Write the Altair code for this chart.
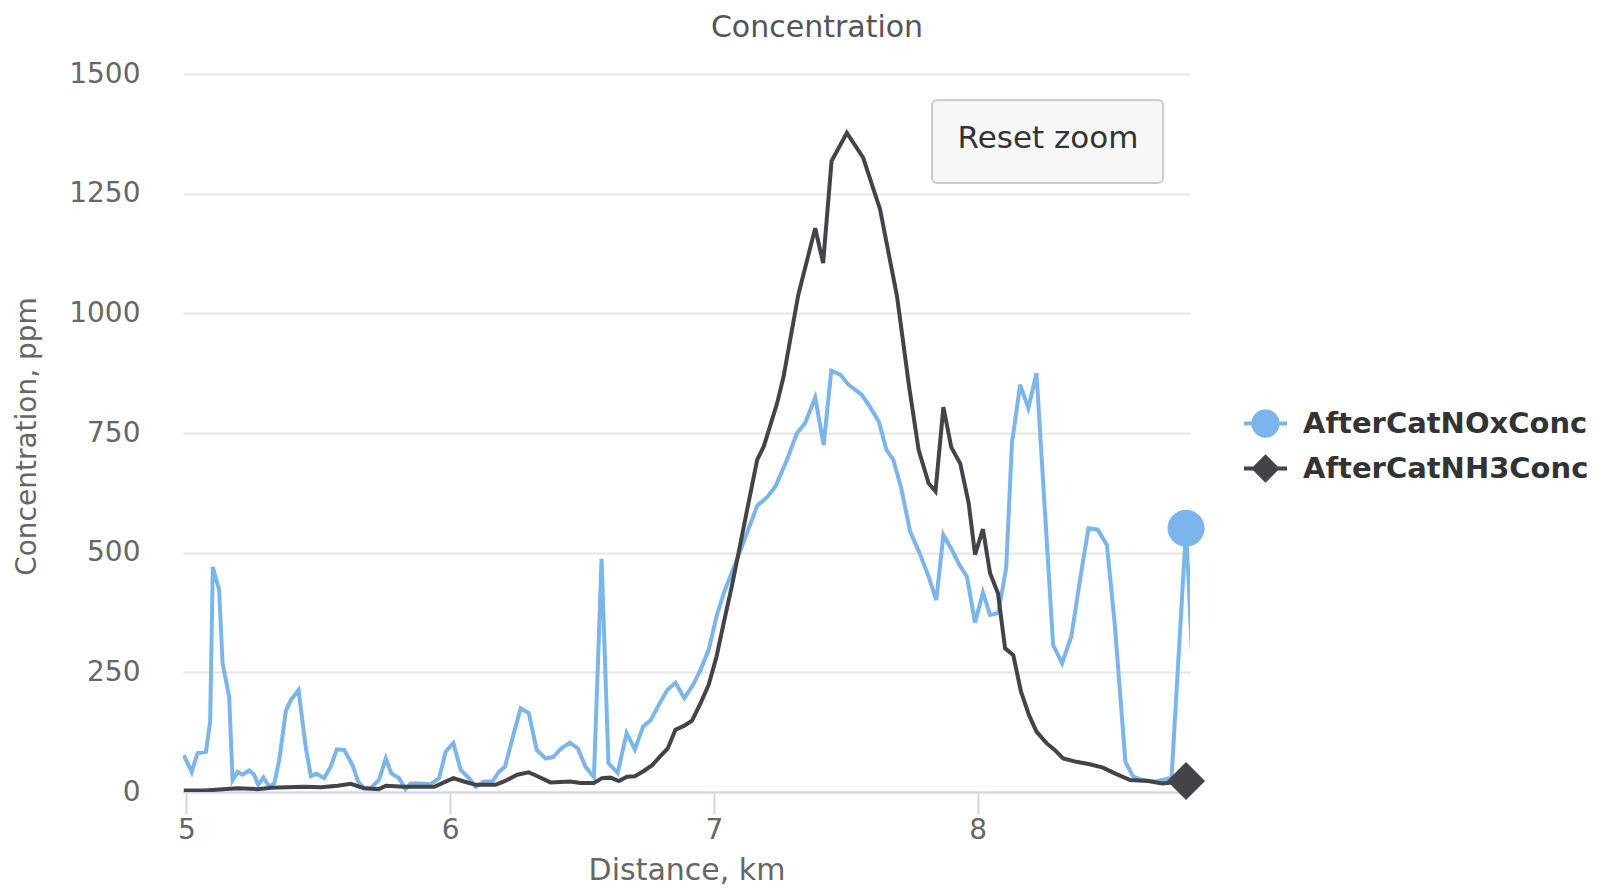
import altair as alt
import pandas as pd
import math

# ---- data ----
series_names = ["AfterCatNOxConc", "AfterCatNH3Conc"]
series_colors = ["#7cb5ec", "#434348"]

nox_x = [4.99, 5.02, 5.042, 5.074, 5.09, 5.10, 5.124, 5.137, 5.162, 5.175, 5.194, 5.213, 5.238, 5.257,
         5.272, 5.292, 5.314, 5.333, 5.352, 5.377, 5.396, 5.425, 5.453, 5.472, 5.493, 5.522, 5.547,
         5.57, 5.598, 5.63, 5.651, 5.673, 5.699, 5.73, 5.756, 5.777, 5.806, 5.831, 5.85, 5.882, 5.926,
         5.958, 5.983, 6.012, 6.04, 6.071, 6.097, 6.128, 6.16, 6.185, 6.208, 6.236, 6.267, 6.298,
         6.328, 6.362, 6.39, 6.421, 6.454, 6.484, 6.513, 6.545, 6.574, 6.60, 6.635, 6.669, 6.70,
         6.732, 6.76, 6.791, 6.823, 6.854, 6.888, 6.921, 6.949, 6.98, 7.01, 7.037, 7.069, 7.094,
         7.126, 7.164, 7.20, 7.233, 7.277, 7.315, 7.346, 7.384, 7.416, 7.445, 7.479, 7.51, 7.56,
         7.59, 7.625, 7.654, 7.68, 7.71, 7.744, 7.78, 7.814, 7.843, 7.87, 7.902, 7.93, 7.959, 7.99,
         8.02, 8.047, 8.078, 8.108, 8.13, 8.161, 8.192, 8.223, 8.286, 8.32, 8.355, 8.392, 8.42,
         8.455, 8.49, 8.52, 8.56, 8.59, 8.624, 8.674, 8.70, 8.735, 8.79, 8.835]
nox_y = [77, 42, 81, 84, 147, 470, 422, 269, 199, 25, 42, 36, 45, 36,
         15, 30, 11, 18, 67, 170, 192, 213, 91, 33, 38, 29, 53,
         89, 88, 56, 22, 8, 8, 25, 70, 39, 29, 6, 18, 18, 16,
         29, 84, 102, 46, 29, 11, 22, 22, 42, 53, 112, 175, 165,
         88, 70, 73, 91, 103, 91, 53, 31, 487, 60, 40, 123, 89,
         137, 150, 182, 213, 228, 196, 224, 255, 297, 367, 415, 460, 495,
         542, 598, 615, 638, 694, 750, 771, 824, 725, 880, 872, 851, 830,
         806, 774, 715, 694, 635, 544, 499, 450, 401, 537, 506, 475, 450, 354,
         417, 370, 374, 468, 729, 851, 802, 875, 307, 269, 325, 457, 551,
         548, 516, 349, 63, 32, 25, 22, 25, 30, 551, 30]

nh3_x = [4.99, 5.07, 5.194, 5.27, 5.32, 5.446, 5.51, 5.573, 5.623, 5.673, 5.73, 5.756, 5.825, 5.94,
         5.964, 6.012, 6.052, 6.097, 6.172, 6.204, 6.254, 6.298, 6.323, 6.38, 6.456, 6.494, 6.545,
         6.576, 6.608, 6.64, 6.67, 6.70, 6.734, 6.766, 6.797, 6.825, 6.854, 6.886, 6.917, 6.949,
         6.98, 7.01, 7.037, 7.069, 7.10, 7.126, 7.164, 7.189, 7.24, 7.264, 7.32, 7.384, 7.414,
         7.446, 7.504, 7.566, 7.63, 7.694, 7.74, 7.776, 7.814, 7.84, 7.87, 7.90, 7.934, 7.966,
         7.99, 8.02, 8.047, 8.077, 8.104, 8.135, 8.164, 8.195, 8.223, 8.261, 8.292, 8.324, 8.374,
         8.425, 8.475, 8.52, 8.578, 8.646, 8.70, 8.79]
nh3_y = [3, 3, 8, 6, 9, 11, 10, 13, 17, 8, 6, 13, 11, 11,
         17, 29, 22, 15, 15, 22, 36, 41, 35, 20, 22, 19, 19,
         29, 30, 23, 32, 33, 44, 56, 75, 91, 130, 138, 149, 185,
         224, 283, 353, 433, 518, 590, 694, 722, 813, 868, 1039, 1178, 1105,
         1318, 1377, 1325, 1217, 1036, 847, 715, 645, 628, 804, 720, 686, 603,
         496, 549, 457, 415, 300, 286, 210, 160, 126, 102, 88, 70, 63,
         58, 51, 39, 25, 23, 18, 23]

# hovered point (markers shown by the original chart)
hover_x = [8.79, 8.79]
hover_y = [551, 23]

x_ticks = [5, 6, 7, 8]
y_ticks = [0, 250, 500, 750, 1000, 1250, 1500]
x_domain = [4.987, 8.805]
y_domain = [0, 1500]

chart_title = ["Concentration"]
button_label = ["Reset zoom"]

# ---- tables ----
df = pd.concat([
    pd.DataFrame({"x": nox_x, "y": nox_y, "series": series_names[0]}),
    pd.DataFrame({"x": nh3_x, "y": nh3_y, "series": series_names[1]}),
], ignore_index=True)
hover_df = pd.DataFrame({"x": hover_x, "y": hover_y, "series": series_names})
legend_df = pd.DataFrame({"x": [None, None], "y": [None, None], "series": series_names})
button_df = pd.DataFrame({"label": button_label})
title_df = pd.DataFrame({"label": chart_title})

FONT = "DejaVu Sans"

# legend symbols: marker with a line through it (polygon approximation of the circle)
def circle_poly(r, n=24):
    pts = [(r * math.cos(2 * math.pi * k / n), r * math.sin(2 * math.pi * k / n)) for k in range(n)]
    return "M" + "L".join(f"{px:.3f},{py:.3f}" for px, py in pts) + "Z"

bar = "M-1,-0.09L1,-0.09L1,0.09L-1,0.09Z"
circle_path = circle_poly(0.66) + " " + bar
diamond_path = "M0,-0.66L0.66,0L0,0.66L-0.66,0Z " + bar

xscale = alt.Scale(domain=x_domain, nice=False, zero=False)
yscale = alt.Scale(domain=y_domain, nice=False, zero=False)
cscale = alt.Scale(domain=series_names, range=series_colors)

x_axis = alt.Axis(values=x_ticks, format="d", title="Distance, km", grid=False,
                  labelFontSize=28, labelColor="#666666", labelPadding=2, labelFont=FONT,
                  tickSize=22, tickWidth=2, tickColor="#ccd6eb",
                  domainColor="#ccd6eb", domainWidth=2,
                  titleFontSize=30, titleColor="#666666", titleFontWeight="normal", titleFont=FONT,
                  titleBaseline="alphabetic", titleY=87)
y_axis = alt.Axis(values=y_ticks, format="d", title="Concentration, ppm", grid=True,
                  gridColor="#e6e6e6", gridWidth=2, domain=False, ticks=False, tickSize=0,
                  labelFontSize=28, labelColor="#666666", labelPadding=43, labelFont=FONT,
                  titleFontSize=28, titleColor="#666666", titleFontWeight="normal", titleFont=FONT,
                  titleBaseline="alphabetic", titleX=-148, titleY=362)

base = alt.Chart(df)

line_nox = base.transform_filter(alt.datum.series == series_names[0]).mark_line(
    strokeWidth=4, clip=True, color=series_colors[0]).encode(
    x=alt.X("x:Q", scale=xscale, axis=x_axis),
    y=alt.Y("y:Q", scale=yscale, axis=y_axis),
)
line_nh3 = base.transform_filter(alt.datum.series == series_names[1]).mark_line(
    strokeWidth=4, clip=True, color=series_colors[1]).encode(
    x="x:Q", y="y:Q",
)

hover_nox = alt.Chart(hover_df).transform_filter(alt.datum.series == series_names[0]).mark_point(
    shape="circle", filled=True, size=1369, opacity=1, color=series_colors[0]).encode(
    x="x:Q", y="y:Q")
hover_nh3 = alt.Chart(hover_df).transform_filter(alt.datum.series == series_names[1]).mark_point(
    shape="diamond", filled=True, size=1444, opacity=1, color=series_colors[1]).encode(
    x="x:Q", y="y:Q")

legend_props = dict(orient="none", legendX=1061, legendY=328, padding=0, title=None,
                    labelFont=FONT, labelFontSize=29, labelFontWeight="bold", labelColor="#333333",
                    symbolSize=1849, symbolStrokeWidth=0, symbolOpacity=1, labelOffset=16,
                    rowPadding=8, labelLimit=500)
legend_layer = alt.Chart(legend_df).mark_point(filled=True, size=1849, opacity=1).encode(
    x="x:Q", y="y:Q",
    color=alt.Color("series:N", scale=cscale, legend=alt.Legend(**legend_props)),
    shape=alt.Shape("series:N", scale=alt.Scale(domain=series_names, range=[circle_path, diamond_path]),
                    legend=alt.Legend(**legend_props)),
)

button_rect = alt.Chart(button_df).mark_rect(
    fill="#f7f7f7", stroke="#cccccc", strokeWidth=2, cornerRadius=5).encode(
    x=alt.value(749), x2=alt.value(980), y=alt.value(26), y2=alt.value(109))
button_text = alt.Chart(button_df).mark_text(
    font=FONT, fontSize=31, color="#333333", align="center", baseline="middle").encode(
    x=alt.value(865), y=alt.value(65), text="label:N")

title_text = alt.Chart(title_df).mark_text(
    font=FONT, fontSize=30, color="#555555", align="center", baseline="alphabetic").encode(
    x=alt.value(634), y=alt.value(-37), text="label:N")

chart = alt.layer(
    line_nox, line_nh3, hover_nox, hover_nh3, legend_layer, button_rect, button_text, title_text
).properties(
    width=1007, height=718,
    autosize=alt.AutoSizeParams(type="none"),
    padding={"left": 175, "top": 66, "right": 400, "bottom": 96},
).configure(font=FONT).configure_view(stroke=None)

chart.save("out.html", embed_options={"renderer": "svg", "actions": False})
